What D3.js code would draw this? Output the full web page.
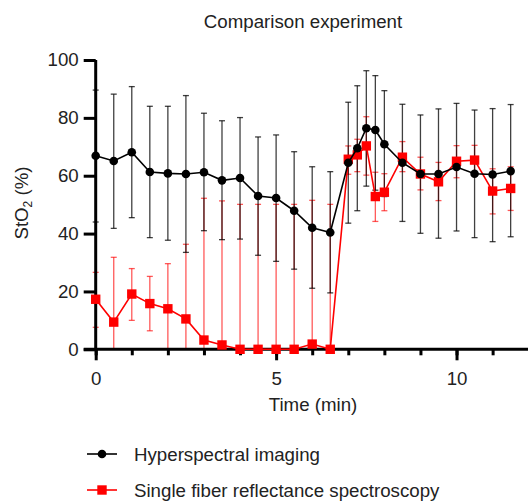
<!DOCTYPE html>
<html>
<head>
<meta charset="utf-8">
<script src="https://cdn.jsdelivr.net/npm/d3@7"></script>
<style>
  body { margin: 0; background: #fff; }
  svg { display: block; font-family: "Liberation Sans", Arial, Helvetica, sans-serif; }
</style>
</head>
<body>
<svg id="chart" width="528" height="503"></svg>
<script>
const title = "Comparison experiment";
const xLabel = "Time (min)";
const seriesNames = ["Hyperspectral imaging", "Single fiber reflectance spectroscopy"];

const time = [0,0.5,1,1.5,2,2.5,3,3.5,4,4.5,5,5.5,6,6.5,7,7.25,7.5,7.75,8,8.5,9,9.5,10,10.5,11,11.5];

const hsiMean  = [66.9,65.1,68.1,61.3,60.8,60.6,61.2,58.4,59.2,53.0,52.3,47.9,42.0,40.4,64.5,69.5,76.4,75.8,70.9,64.5,60.6,60.6,63.0,60.7,60.4,61.6];
const hsiUpper = [89.6,88.2,90.8,84.0,84.0,87.7,81.6,79.0,80.1,73.4,74.1,68.3,63.1,61.4,85.4,91.1,96.3,94.6,89.4,84.7,81.0,83.1,85.0,82.7,83.2,84.6];
const hsiLower = [44.0,41.8,45.5,38.6,37.7,33.5,41.0,37.9,38.1,32.5,30.4,27.7,21.1,19.5,43.6,47.9,56.4,55.0,52.8,44.2,40.1,38.4,40.9,38.6,37.2,38.9];

const sfrMean  = [17.3,9.4,19.1,15.8,14.0,10.5,3.2,1.5,0,0,0,0,1.8,0,65.7,67.2,70.3,52.8,54.3,66.4,60.6,57.9,65.0,65.4,54.7,55.6];
const sfrUpper = [26.6,31.8,27.9,25.2,29.6,36.3,52.2,51.3,50.1,50.1,50.1,50.1,51.5,50.1,70.3,72.6,80.4,61.2,60.7,71.8,66.4,64.6,70.4,70.5,62.4,63.1];
const sfrLower = [7.6,0,10.0,6.4,0,0,0,0,0,0,0,0,0,0,60.5,61.4,60.2,44.2,47.9,61.4,55.1,51.4,59.3,60.2,46.8,48.0];

const yTicks = [0,20,40,60,80,100];
const xMajorTicks = [0,5,10];
const xMinorTicks = [0,1,2,3,4,5,6,7,8,9,10,11];

const FS = 18.7;
const svg = d3.select("#chart");
const x = d3.scaleLinear().domain([0, 12]).range([95.7, 528.7]);
const y = d3.scaleLinear().domain([0, 100]).range([349.3, 60]);
const textColor = "#222";

function build(mean, up, lo) {
  return time.map((t, i) => ({ t, m: mean[i], u: up[i], l: lo[i] }));
}
const hsi = build(hsiMean, hsiUpper, hsiLower);
const sfr = build(sfrMean, sfrUpper, sfrLower);

// title
svg.append("text").attr("x", 303).attr("y", 28).attr("text-anchor", "middle")
  .attr("font-size", FS).attr("fill", textColor).text(title);

// error bars
function errorBars(data, color, opacity) {
  const g = svg.append("g").attr("stroke", color).attr("stroke-opacity", opacity).attr("stroke-width", 1.3).attr("fill", "none");
  data.forEach(d => {
    g.append("line").attr("x1", x(d.t)).attr("x2", x(d.t)).attr("y1", y(d.u)).attr("y2", y(d.l));
    g.append("line").attr("x1", x(d.t) - 3).attr("x2", x(d.t) + 3).attr("y1", y(d.u)).attr("y2", y(d.u));
    if (d.l > 0) g.append("line").attr("x1", x(d.t) - 3).attr("x2", x(d.t) + 3).attr("y1", y(d.l)).attr("y2", y(d.l));
  });
}
errorBars(sfr, "#ff0000", 0.65);
errorBars(hsi, "#000", 0.75);

// axes
const yAxis = d3.axisLeft(y).tickValues(yTicks).tickSize(12).tickPadding(5);
const gy = svg.append("g").attr("transform", `translate(${x(0)},0)`).call(yAxis);
gy.select(".domain").attr("stroke", "#000").attr("stroke-width", 3).attr("d", `M0,${y(0)+1.5}V${y(100)}`);
gy.selectAll(".tick line").attr("stroke", "#000").attr("stroke-width", 3);
gy.selectAll(".tick text").attr("font-size", FS).attr("fill", textColor).attr("font-family", "Liberation Sans, Arial, sans-serif");

const xAxisMinor = d3.axisBottom(x).tickValues(xMinorTicks).tickSize(6).tickFormat("");
const gxm = svg.append("g").attr("transform", `translate(0,${y(0)})`).call(xAxisMinor);
gxm.select(".domain").attr("stroke", "#000").attr("stroke-width", 3).attr("d", `M${x(0)-12},0H528`);
gxm.selectAll(".tick line").attr("stroke", "#000").attr("stroke-width", 3);

const xAxis = d3.axisBottom(x).tickValues(xMajorTicks).tickSize(11).tickPadding(11);
const gx = svg.append("g").attr("transform", `translate(0,${y(0)})`).call(xAxis);
gx.select(".domain").remove();
gx.selectAll(".tick line").attr("stroke", "#000").attr("stroke-width", 3);
gx.selectAll(".tick text").attr("font-size", FS).attr("fill", textColor).attr("font-family", "Liberation Sans, Arial, sans-serif");

// axis labels
svg.append("text").attr("x", 313).attr("y", 411).attr("text-anchor", "middle")
  .attr("font-size", FS).attr("fill", textColor).text(xLabel);
const yl = svg.append("text").attr("transform", "translate(28,203) rotate(-90)")
  .attr("text-anchor", "middle").attr("font-size", FS).attr("fill", textColor);
yl.append("tspan").text("StO");
yl.append("tspan").attr("font-size", 12).attr("dy", 4).text("2");
yl.append("tspan").attr("dy", -4).text(" (%)");

// lines
const line = d3.line().x(d => x(d.t)).y(d => y(d.m));
svg.append("path").datum(sfr).attr("d", line).attr("fill", "none").attr("stroke", "#ff0000").attr("stroke-width", 1.6);
svg.selectAll("rect.sfr").data(sfr).enter().append("rect").attr("class", "sfr")
  .attr("x", d => x(d.t) - 4.7).attr("y", d => y(d.m) - 4.7).attr("width", 9.4).attr("height", 9.4).attr("fill", "#ff0000");

svg.append("path").datum(hsi).attr("d", line).attr("fill", "none").attr("stroke", "#000").attr("stroke-width", 1.6);
svg.selectAll("circle.hsi").data(hsi).enter().append("circle").attr("class", "hsi")
  .attr("cx", d => x(d.t)).attr("cy", d => y(d.m)).attr("r", 4.3).attr("fill", "#000");

// legend
const legend = [
  { name: seriesNames[0], color: "#000", shape: "circle", y: 454 },
  { name: seriesNames[1], color: "#ff0000", shape: "square", y: 490 }
];
legend.forEach(l => {
  svg.append("line").attr("x1", 87).attr("x2", 117).attr("y1", l.y).attr("y2", l.y).attr("stroke", l.color).attr("stroke-width", 1.6);
  if (l.shape === "circle") svg.append("circle").attr("cx", 102).attr("cy", l.y).attr("r", 4.3).attr("fill", l.color);
  else svg.append("rect").attr("x", 97.3).attr("y", l.y - 4.7).attr("width", 9.4).attr("height", 9.4).attr("fill", l.color);
  svg.append("text").attr("x", 134).attr("y", l.y).attr("dy", "0.35em").attr("font-size", FS).attr("fill", textColor).text(l.name);
});
</script>
</body>
</html>
